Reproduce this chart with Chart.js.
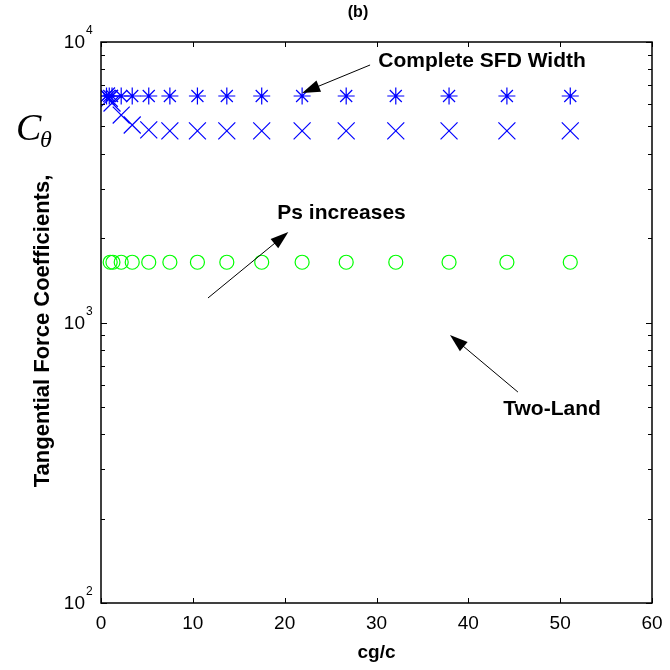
<!DOCTYPE html>
<html>
<head>
<meta charset="utf-8">
<script src="https://cdn.jsdelivr.net/npm/chart.js@4.4.1/dist/chart.umd.min.js"></script>
<style>
  body { margin: 0; background: #fff; }
  #wrap { width: 670px; height: 670px; position: relative; }
</style>
</head>
<body>
<div id="wrap"><canvas id="myChart"></canvas></div>
<script>
// clearance ratio cg/c for each test point
const cgStar = [0.6, 0.9, 1.2, 2.2, 3.4, 5.2, 7.5, 10.5, 13.7, 17.5, 21.9, 26.7, 32.1, 37.9, 44.2, 51.1];
const cgCross = [0.6, 0.9, 1.2, 2.2, 3.4, 5.2, 7.5, 10.5, 13.7, 17.5, 21.9, 26.7, 32.1, 37.9, 44.2, 51.1];
const cgCircle = [1.0, 1.3, 2.2, 3.4, 5.2, 7.5, 10.5, 13.7, 17.5, 21.9, 26.7, 32.1, 37.9, 44.2, 51.1];

// tangential force coefficient C_theta
const ctStar = [6420, 6420, 6420, 6420, 6420, 6420, 6420, 6420, 6420, 6420, 6420, 6420, 6420, 6420, 6420, 6420];
const ctCross = [6420, 6300, 6060, 5490, 5060, 4860, 4820, 4820, 4820, 4820, 4820, 4820, 4820, 4820, 4820, 4820];
const ctCircle = [1640, 1640, 1640, 1640, 1640, 1640, 1640, 1640, 1640, 1640, 1640, 1640, 1640, 1640, 1640];

const xTicks = [0, 10, 20, 30, 40, 50, 60];
const yDecades = [100, 1000, 10000];
const yMinor = [2, 3, 4, 5, 6, 7, 8, 9];

// annotation text and arrows, in data units
const noteText = ['Complete SFD Width', 'Ps increases', 'Two-Land'];
const noteAt = [[30.2, 8550], [19.2, 2460], [43.8, 492]];
const arrowFrom = [[29.3, 8280], [11.65, 1223], [45.4, 565]];
const arrowTo = [[21.9, 6580], [20.4, 2100], [38.0, 902]];

const SANS = '"Liberation Sans", Arial, sans-serif';
const SERIF = '"Liberation Serif", "Times New Roman", serif';

const toPoints = (xs, ys) => xs.map((v, i) => ({ x: v, y: ys[i] }));

function drawArrow(ctx, x0, y0, x1, y1) {
    const ang = Math.atan2(y1 - y0, x1 - x0);
    const len = 18, half = 6;
    ctx.beginPath();
    ctx.moveTo(x0, y0);
    ctx.lineTo(x1 - Math.cos(ang) * len * 0.8, y1 - Math.sin(ang) * len * 0.8);
    ctx.stroke();
    ctx.beginPath();
    ctx.moveTo(x1, y1);
    ctx.lineTo(x1 - Math.cos(ang) * len - Math.sin(ang) * half, y1 - Math.sin(ang) * len + Math.cos(ang) * half);
    ctx.lineTo(x1 - Math.cos(ang) * len + Math.sin(ang) * half, y1 - Math.sin(ang) * len - Math.cos(ang) * half);
    ctx.closePath();
    ctx.fill();
}

// matlab-like box, inward ticks, labels and notes
const axesBox = {
    id: 'axesBox',
    afterDraw(chart) {
        const { ctx, chartArea: a, scales: { x, y } } = chart;
        ctx.save();
        ctx.strokeStyle = '#000';
        ctx.fillStyle = '#000';
        ctx.lineWidth = 1.5;
        ctx.strokeRect(a.left, a.top, a.right - a.left, a.bottom - a.top);

        ctx.lineWidth = 1;
        ctx.beginPath();
        xTicks.forEach(v => {
            const px = Math.round(x.getPixelForValue(v)) + 0.5;
            ctx.moveTo(px, a.bottom); ctx.lineTo(px, a.bottom - 5);
            ctx.moveTo(px, a.top); ctx.lineTo(px, a.top + 5);
        });
        yDecades.forEach((d, i) => {
            const py = Math.round(y.getPixelForValue(d)) + 0.5;
            ctx.moveTo(a.left, py); ctx.lineTo(a.left + 6, py);
            ctx.moveTo(a.right, py); ctx.lineTo(a.right - 6, py);
            if (i < yDecades.length - 1) {
                yMinor.forEach(m => {
                    const pm = Math.round(y.getPixelForValue(d * m)) + 0.5;
                    ctx.moveTo(a.left, pm); ctx.lineTo(a.left + 4, pm);
                    ctx.moveTo(a.right, pm); ctx.lineTo(a.right - 4, pm);
                });
            }
        });
        ctx.stroke();

        // x tick labels
        ctx.font = `19px ${SANS}`;
        ctx.textAlign = 'center';
        ctx.textBaseline = 'middle';
        xTicks.forEach(v => ctx.fillText(String(v), x.getPixelForValue(v), a.bottom + 21));

        // y tick labels as 10^n
        yDecades.forEach(d => {
            const py = y.getPixelForValue(d);
            ctx.font = `19px ${SANS}`;
            ctx.textAlign = 'right';
            ctx.textBaseline = 'middle';
            ctx.fillText('10', a.left - 16, py + 1);
            ctx.font = `12px ${SANS}`;
            ctx.textAlign = 'left';
            ctx.textBaseline = 'alphabetic';
            ctx.fillText(String(Math.round(Math.log10(d))), a.left - 15, py - 8);
        });

        // axis titles
        ctx.font = `bold 19px ${SANS}`;
        ctx.textAlign = 'center';
        ctx.textBaseline = 'middle';
        ctx.fillText('cg/c', (a.left + a.right) / 2, a.bottom + 50);
        ctx.font = `bold 16px ${SANS}`;
        ctx.fillText('(b)', 358, 13);

        ctx.save();
        ctx.translate(43, 331);
        ctx.rotate(-Math.PI / 2);
        ctx.font = `bold 22px ${SANS}`;
        ctx.fillText('Tangential Force Coefficients,', 0, 0);
        ctx.restore();

        ctx.textAlign = 'left';
        ctx.textBaseline = 'alphabetic';
        ctx.font = `italic 38px ${SERIF}`;
        ctx.fillText('C', 16, 140);
        ctx.font = `italic 24px ${SERIF}`;
        ctx.fillText('θ', 40, 147);

        // notes with arrows
        ctx.font = `bold 21px ${SANS}`;
        ctx.textBaseline = 'middle';
        noteText.forEach((t, i) => {
            ctx.fillText(t, x.getPixelForValue(noteAt[i][0]), y.getPixelForValue(noteAt[i][1]));
            drawArrow(ctx,
                x.getPixelForValue(arrowFrom[i][0]), y.getPixelForValue(arrowFrom[i][1]),
                x.getPixelForValue(arrowTo[i][0]), y.getPixelForValue(arrowTo[i][1]));
        });
        ctx.restore();
    }
};

const ctx = document.getElementById('myChart');

new Chart(ctx, {
    type: 'scatter',
    data: {
        datasets: [
            {
                label: 'Complete SFD Width',
                data: toPoints(cgStar, ctStar),
                pointStyle: 'star',
                pointRadius: 8.5,
                borderColor: '#0000ff',
                backgroundColor: '#0000ff',
                borderWidth: 1.2
            },
            {
                label: 'Ps increases',
                data: toPoints(cgCross, ctCross),
                pointStyle: 'crossRot',
                pointRadius: 12,
                borderColor: '#0000ff',
                backgroundColor: '#0000ff',
                borderWidth: 1.2
            },
            {
                label: 'Two-Land',
                data: toPoints(cgCircle, ctCircle),
                pointStyle: 'circle',
                pointRadius: 7,
                borderColor: '#00ff00',
                backgroundColor: 'rgba(0,0,0,0)',
                borderWidth: 1.2
            }
        ]
    },
    options: {
        responsive: true,
        maintainAspectRatio: false,
        devicePixelRatio: 1,
        animation: false,
        layout: { padding: { left: 101, right: 18, top: 42, bottom: 67 } },
        scales: {
            x: { type: 'linear', min: 0, max: 60, display: false },
            y: { type: 'logarithmic', min: 100, max: 10000, display: false }
        },
        plugins: {
            legend: { display: false },
            tooltip: { enabled: false }
        }
    },
    plugins: [axesBox]
});
</script>
</body>
</html>
